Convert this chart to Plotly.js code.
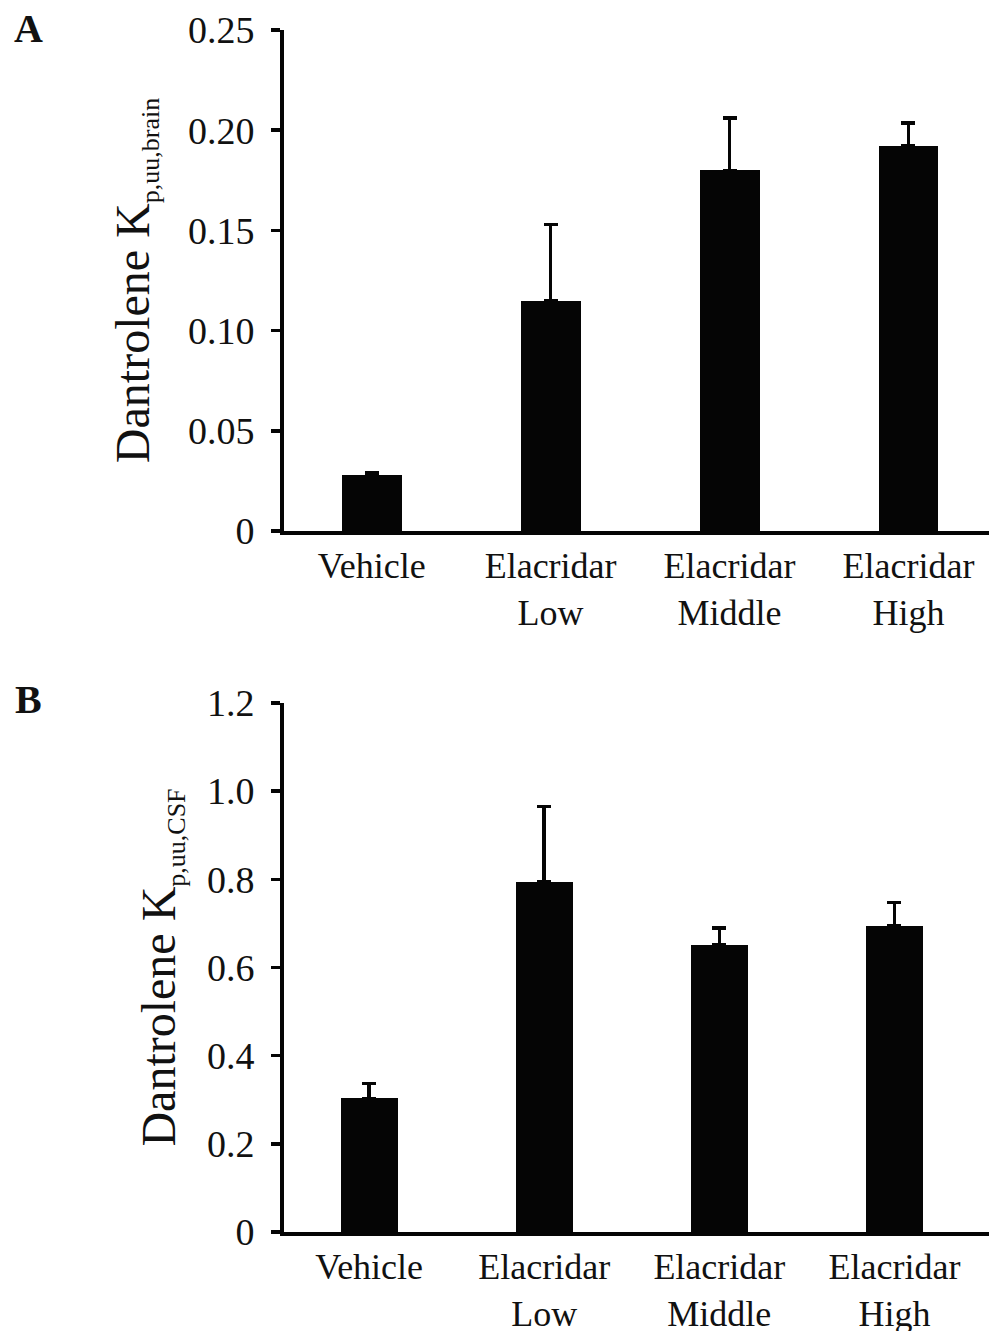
<!DOCTYPE html>
<html>
<head>
<meta charset="utf-8">
<script src="https://cdn.plot.ly/plotly-3.0.1.min.js"></script>
<style>
  html, body { margin: 0; padding: 0; background: #ffffff; }
  #chart { width: 989px; height: 1331px; }
</style>
</head>
<body>
<div id="chart"></div>
<script>
// ---- data ----
const categories = ['Vehicle', 'Elacridar<br>Low', 'Elacridar<br>Middle', 'Elacridar<br>High'];

const brainMean = [0.028, 0.115, 0.180, 0.192];
const brainErr  = [0.001, 0.038, 0.026, 0.0115];

const csfMean = [0.303, 0.795, 0.651, 0.695];
const csfErr  = [0.034, 0.170, 0.039, 0.052];

const brainTickVals = [0, 0.05, 0.10, 0.15, 0.20, 0.25];
const brainTickText = ['0', '0.05', '0.10', '0.15', '0.20', '0.25'];
const csfTickVals = [0, 0.2, 0.4, 0.6, 0.8, 1.0, 1.2];
const csfTickText = ['0', '0.2', '0.4', '0.6', '0.8', '1.0', '1.2'];

const brainTitle = 'Dantrolene K<sub><span style="font-size:26px">p,uu,brain</span></sub>';
const csfTitle = 'Dantrolene K<sub><span style="font-size:26px">p,uu,CSF</span></sub>';
const panelLabels = ['A', 'B'];

// ---- styling ----
const FONT = 'Liberation Serif, Times New Roman, serif';
const zeros = categories.map(() => 0);

const traces = [
  {
    type: 'bar', x: categories, y: brainMean, xaxis: 'x', yaxis: 'y',
    width: 0.335,
    marker: { color: '#050505', line: { width: 0 } },
    error_y: { type: 'data', symmetric: false, array: brainErr, arrayminus: zeros,
               color: '#050505', thickness: 3.5, width: 7 },
    hoverinfo: 'x+y', showlegend: false
  },
  {
    type: 'bar', x: categories, y: csfMean, xaxis: 'x2', yaxis: 'y2',
    width: 0.326,
    marker: { color: '#050505', line: { width: 0 } },
    error_y: { type: 'data', symmetric: false, array: csfErr, arrayminus: zeros,
               color: '#050505', thickness: 3.5, width: 7 },
    hoverinfo: 'x+y', showlegend: false
  }
];

const H = 1331, W = 989;
const xDom = [284 / W, 1];

const commonX = {
  type: 'category', showline: true, linecolor: '#050505', linewidth: 4,
  ticks: '', showgrid: false, zeroline: false, automargin: false,
  tickfont: { family: FONT, size: 36, color: '#111' }, fixedrange: true
};
const commonY = {
  showline: true, linecolor: '#050505', linewidth: 4,
  ticks: 'outside', ticklen: 9, tickwidth: 3.5, tickcolor: '#050505',
  ticklabelstandoff: 9,
  showgrid: false, zeroline: false, automargin: false,
  tickfont: { family: FONT, size: 38, color: '#111' }, fixedrange: true,
  tickmode: 'array'
};

const layout = {
  width: W, height: H,
  margin: { l: 0, r: 0, t: 0, b: 0 },
  paper_bgcolor: '#ffffff', plot_bgcolor: '#ffffff',
  showlegend: false,
  bargap: 0,
  xaxis: Object.assign({}, commonX, { domain: xDom, range: [-0.49, 3.45], anchor: 'y' }),
  yaxis: Object.assign({}, commonY, {
    domain: [1 - 531 / H, 1 - 30 / H], range: [0, 0.25], anchor: 'x',
    tickvals: brainTickVals, ticktext: brainTickText,
    title: { text: brainTitle, font: { family: FONT, size: 48, color: '#111' }, standoff: 24 }
  }),
  xaxis2: Object.assign({}, commonX, { domain: xDom, range: [-0.486, 3.54], anchor: 'y2' }),
  yaxis2: Object.assign({}, commonY, {
    domain: [1 - 1232 / H, 1 - 703 / H], range: [0, 1.2], anchor: 'x2',
    tickvals: csfTickVals, ticktext: csfTickText,
    title: { text: csfTitle, font: { family: FONT, size: 48, color: '#111' }, standoff: 17 }
  }),
  annotations: [
    { text: '<b>' + panelLabels[0] + '</b>', xref: 'paper', yref: 'paper',
      x: 28 / W, y: 1 - 29 / H, xanchor: 'center', yanchor: 'middle', showarrow: false,
      font: { family: FONT, size: 40, color: '#111' } },
    { text: '<b>' + panelLabels[1] + '</b>', xref: 'paper', yref: 'paper',
      x: 28 / W, y: 1 - 699 / H, xanchor: 'center', yanchor: 'middle', showarrow: false,
      font: { family: FONT, size: 40, color: '#111' } }
  ]
};

Plotly.newPlot('chart', traces, layout, { displayModeBar: false, staticPlot: true });
</script>
</body>
</html>
